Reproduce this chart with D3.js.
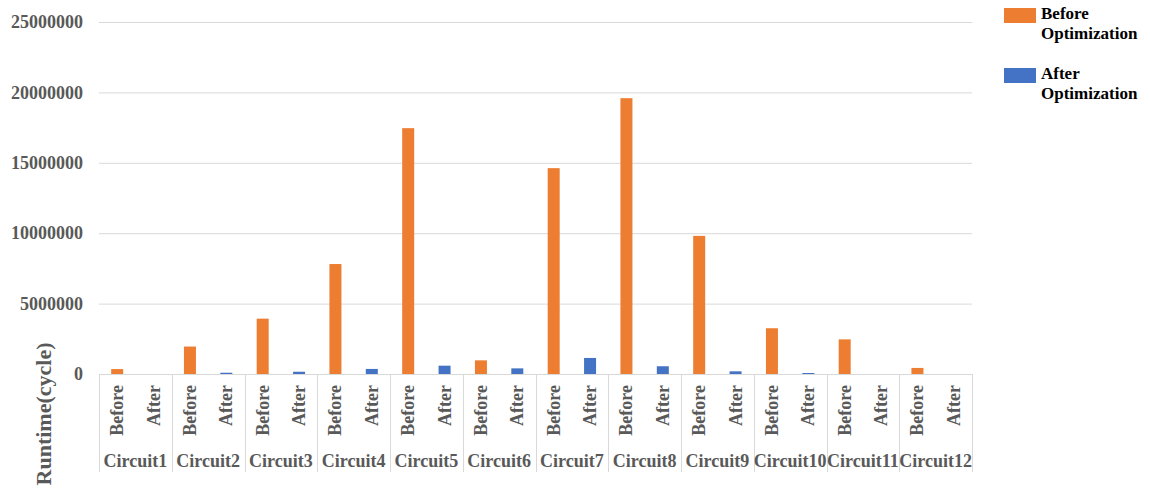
<!DOCTYPE html>
<html>
<head>
<meta charset="utf-8">
<script src="https://cdn.jsdelivr.net/npm/d3@7"></script>
<style>
  body { margin: 0; background: #fff; }
  svg text { font-family: "Liberation Serif", "Times New Roman", serif; font-weight: bold; }
</style>
</head>
<body>
<svg id="canvas"></svg>
<script>
let circuits = ["Circuit1", "Circuit2", "Circuit3", "Circuit4", "Circuit5", "Circuit6",
  "Circuit7", "Circuit8", "Circuit9", "Circuit10", "Circuit11", "Circuit12"];
let phases = ["Before", "After"];
let beforeValues = [350000, 1950000, 3930000, 7810000, 17460000, 970000,
  14620000, 19590000, 9810000, 3250000, 2460000, 430000];
let afterValues = [0, 90000, 160000, 360000, 590000, 400000,
  1140000, 550000, 190000, 70000, 0, 0];
let yTicks = [0, 5000000, 10000000, 15000000, 20000000, 25000000];
let seriesNames = ["Before Optimization", "After Optimization"];

let width = 1150;
let height = 489;
let plotLeft = 99;
let plotRight = 972;
let plotTop = 22;
let zero = 374;

let orange = "#ED7D31";
let blue = "#4472C4";

let canvas = d3.select("#canvas").attr("width", width).attr("height", height);

let xScale = d3.scaleBand().domain(circuits).range([plotLeft, plotRight]);
let innerScale = d3.scaleBand().domain(phases)
  .range([0, xScale.bandwidth()])
  .paddingInner(0.67).paddingOuter(0.335);
let yScale = d3.scaleLinear().domain([0, 25000000]).range([zero, plotTop]);

// gridlines + tick labels
let yAxis = d3.axisLeft(yScale).tickValues(yTicks).tickSize(-(plotRight - plotLeft)).tickPadding(16)
  .tickFormat(d3.format("d"));
let gy = canvas.append("g").attr("transform", "translate(" + plotLeft + ",0)").call(yAxis);
gy.select(".domain").remove();
gy.selectAll(".tick line").attr("stroke", "#d9d9d9").attr("stroke-width", 1);
gy.selectAll(".tick text").attr("fill", "#595959").attr("font-size", 18)
  .style("font-family", "'Liberation Serif', serif").style("font-weight", "bold");

// bars
let rows = [];
circuits.forEach((c, i) => {
  rows.push({ circuit: c, phase: "Before", value: beforeValues[i] });
  rows.push({ circuit: c, phase: "After", value: afterValues[i] });
});

canvas.selectAll("rect.bar")
  .data(rows)
  .enter()
  .append("rect")
  .attr("class", "bar")
  .attr("x", (d) => xScale(d.circuit) + innerScale(d.phase))
  .attr("width", innerScale.bandwidth())
  .attr("y", (d) => yScale(d.value))
  .attr("height", (d) => zero - yScale(d.value))
  .attr("fill", (d) => (d.phase == "Before" ? orange : blue));

// category axis: base line, dividers, labels
canvas.append("line")
  .attr("x1", plotLeft).attr("x2", plotRight).attr("y1", zero + 0.5).attr("y2", zero + 0.5)
  .attr("stroke", "#d9d9d9");

let dividers = circuits.map((c) => xScale(c)).concat([plotRight]);
canvas.selectAll("line.div")
  .data(dividers)
  .enter()
  .append("line")
  .attr("class", "div")
  .attr("x1", (d) => Math.round(d) + 0.5).attr("x2", (d) => Math.round(d) + 0.5)
  .attr("y1", zero).attr("y2", 472)
  .attr("stroke", "#d9d9d9");

canvas.selectAll("text.phase")
  .data(rows)
  .enter()
  .append("text")
  .attr("class", "phase")
  .attr("transform", (d) => {
    let cx = xScale(d.circuit) + innerScale(d.phase) + innerScale.bandwidth() / 2;
    return "translate(" + (cx + 6) + ",385) rotate(-90)";
  })
  .attr("text-anchor", "end")
  .attr("font-size", 18)
  .attr("fill", "#595959")
  .text((d) => d.phase);

canvas.selectAll("text.circuit")
  .data(circuits)
  .enter()
  .append("text")
  .attr("class", "circuit")
  .attr("x", (d) => xScale(d) + xScale.bandwidth() / 2)
  .attr("y", 467)
  .attr("text-anchor", "middle")
  .attr("font-size", 18)
  .attr("fill", "#595959")
  .text((d) => d);

// y axis title
canvas.append("text")
  .attr("transform", "translate(51,414) rotate(-90)")
  .attr("text-anchor", "middle")
  .attr("font-size", 22)
  .attr("fill", "#595959")
  .text("Runtime(cycle)");

// legend
let legend = canvas.append("g");
let legendColors = [orange, blue];
let legendY = [8, 68];
seriesNames.forEach((name, i) => {
  legend.append("rect")
    .attr("x", 1004).attr("y", legendY[i])
    .attr("width", 32).attr("height", 15)
    .attr("fill", legendColors[i]);
  let words = name.split(" ");
  legend.append("text")
    .attr("x", 1041).attr("y", legendY[i] + 11)
    .attr("font-size", 17)
    .attr("fill", "#000")
    .selectAll("tspan")
    .data(words)
    .enter()
    .append("tspan")
    .attr("x", 1041)
    .attr("dy", (d, j) => (j == 0 ? 0 : 20))
    .text((d) => d);
});
</script>
</body>
</html>
